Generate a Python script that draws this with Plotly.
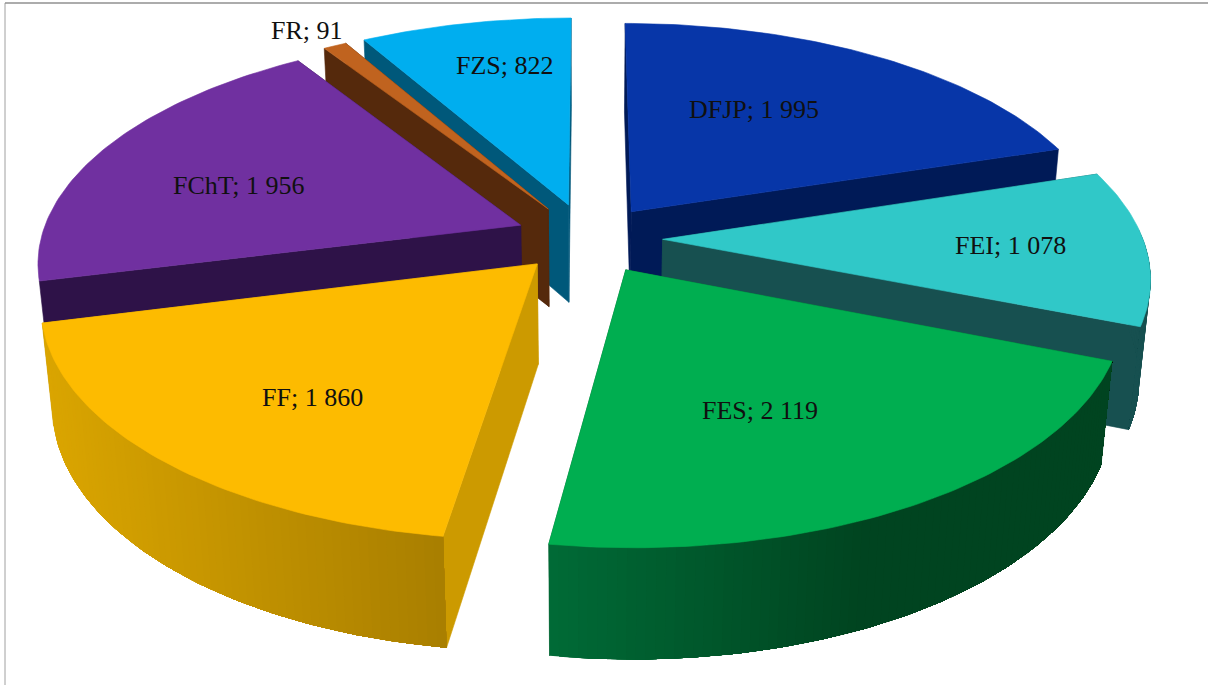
import numpy as np
import plotly.graph_objects as go

categories = ["DFJP", "FEI", "FES", "FF", "FChT", "FR", "FZS"]
values = [1995, 1078, 2119, 1860, 1956, 91, 822]
value_labels = ["1 995", "1 078", "2 119", "1 860", "1 956", "91", "822"]

# look of each slice
top_colors = ["#0736A8", "#30C8C8", "#00AE50", "#FDBB00", "#7030A0", "#C0631F", "#00AEEF"]
cut_colors = ["#001A57", "#175050", "#00602E", "#CC9A00", "#2E1248", "#55290C", "#00587A"]
rim_left = ["#001A57", "#175050", "#006A36", "#DAA500", "#2E1248", "#55290C", "#00587A"]
rim_right = ["#001A57", "#175050", "#004420", "#A87E00", "#2E1248", "#55290C", "#00587A"]
rim_ramp = [1, 1, 0.55, 1, 1, 1, 1]
draw_order = ["FZS", "FR", "DFJP", "FChT", "FEI", "FF", "FES"]
no_rim = ["FChT"]
# small page offsets on top of the explosion, the drawing is not a perfect projection
nudge = {"DFJP": (0, 2), "FEI": (-3, -2), "FES": (0, -4), "FF": (9, -5),
         "FChT": (12, -1), "FR": (6, 1), "FZS": (5, 1)}
label_xy = {"DFJP": (754, 109), "FEI": (1010, 245), "FES": (760, 410), "FF": (312, 397),
            "FChT": (238, 185), "FR": (307, 30), "FZS": (505, 65)}

# projection of the tilted pie onto the page
CX, CY = 584, 240
RX, RY, DEPTH = 480, 225, 101
PERSP, PERSP_Z, PULL = 0.15, 0.02, 0.17


def project(x, y, z, off=(0, 0)):
    w = 1 + PERSP * y - PERSP_Z * z
    return CX + off[0] + RX * x / w, CY + off[1] - (RY * y + DEPTH * z) / w


def mix(c1, c2, t):
    a = [int(c1[i:i + 2], 16) for i in (1, 3, 5)]
    b = [int(c2[i:i + 2], 16) for i in (1, 3, 5)]
    return "rgb(%d,%d,%d)" % tuple(round(p + (q - p) * t) for p, q in zip(a, b))


def poly(fig, pts, color, width=0.6):
    xs = [p[0] for p in pts] + [pts[0][0]]
    ys = [p[1] for p in pts] + [pts[0][1]]
    fig.add_trace(go.Scatter(x=xs, y=ys, mode="lines", fill="toself", fillcolor=color,
                             line=dict(color=color, width=width), hoverinfo="skip", showlegend=False))


fracs = np.array(values) / sum(values)
ends = np.cumsum(fracs) * 2 * np.pi
starts = ends - fracs * 2 * np.pi

fig = go.Figure()
for name in draw_order:
    i = categories.index(name)
    off = nudge[name]
    a0, a1 = starts[i], ends[i]
    mid = (a0 + a1) / 2
    ox, oy = PULL * np.sin(mid), PULL * np.cos(mid)
    arc = np.linspace(a0, a1, max(6, int((a1 - a0) * 60)))
    gx = ox + np.sin(arc)
    gy = oy + np.cos(arc)

    # cut faces, the one further back first
    for ang in sorted([a0, a1], key=lambda t: -np.cos(t)):
        ex, ey = ox + np.sin(ang), oy + np.cos(ang)
        poly(fig, [project(ox, oy, 0, off), project(ex, ey, 0, off),
                   project(ex, ey, -1, off), project(ox, oy, -1, off)], cut_colors[i])

    # rim: each strip runs on to the far end and is painted over by the next one,
    # that way no seams show between the shades
    front = np.where(np.cos(arc) < 0.05)[0]
    if len(front) > 1 and name not in no_rim:
        sx = [project(gx[k], gy[k], 0, off)[0] for k in front]
        lo, hi = min(sx), max(sx)
        order = list(front) if sx[0] < sx[-1] else list(front[::-1])
        for n, k in enumerate(order[:-1]):
            t = (project(gx[k], gy[k], 0, off)[0] - lo) / (hi - lo)
            rest = order[n:]
            upper = [project(gx[j], gy[j], 0, off) for j in rest]
            lower = [project(gx[j], gy[j], -1, off) for j in rest[::-1]]
            poly(fig, upper + lower, mix(rim_left[i], rim_right[i], min(1, t / rim_ramp[i])), 0)

    # top face
    top = [project(ox, oy, 0, off)] + [project(a, b, 0, off) for a, b in zip(gx, gy)]
    poly(fig, top, top_colors[i])

annotations = []
for name, lab in zip(categories, value_labels):
    lx, ly = label_xy[name]
    annotations.append(dict(x=lx, y=ly, text=f"{name}; {lab}", showarrow=False,
                            font=dict(family="Liberation Serif", size=26, color="#101010")))

fig.update_layout(
    width=1208, height=685, margin=dict(l=0, r=0, t=0, b=0),
    paper_bgcolor="white", plot_bgcolor="white", annotations=annotations,
    xaxis=dict(range=[0, 1208], visible=False, fixedrange=True),
    yaxis=dict(range=[685, 0], visible=False, fixedrange=True),
    shapes=[dict(type="line", x0=5, x1=5, y0=3, y1=685, line=dict(color="#A0A0A0", width=1)),
            dict(type="line", x0=5, x1=1208, y0=3, y1=3, line=dict(color="#909090", width=1.5))],
)
fig.write_html("out.html", config={"displayModeBar": False},
               post_script="document.body.style.margin='0';")
